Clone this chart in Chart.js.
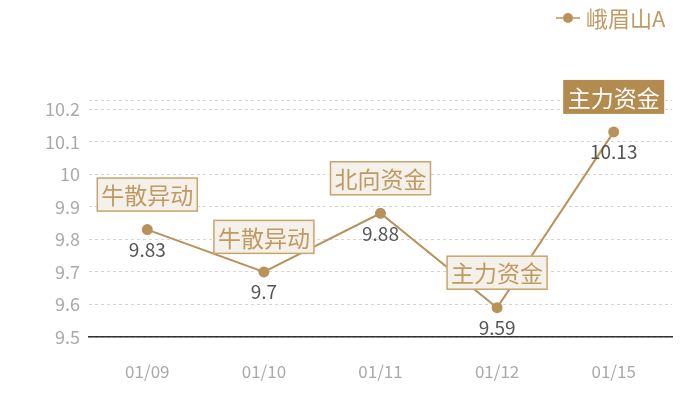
<!DOCTYPE html>
<html>
<head>
<meta charset="utf-8">
<script src="https://cdn.jsdelivr.net/npm/chart.js@4.4.1/dist/chart.umd.min.js"></script>
<style>
  html, body { margin: 0; padding: 0; background: #fff; }
  #wrap { width: 700px; height: 400px; position: relative; }
</style>
</head>
<body>
<div id="wrap"><canvas id="mycanvas"></canvas></div>
<script>
var seriesName = '峨眉山A';
var dates = ['01/09', '01/10', '01/11', '01/12', '01/15'];
var prices = [9.83, 9.7, 9.88, 9.59, 10.13];
var tags = ['牛散异动', '牛散异动', '北向资金', '主力资金', '主力资金'];
var highlight = [false, false, false, false, true];
var yTicks = [9.5, 9.6, 9.7, 9.8, 9.9, 10, 10.1, 10.2];

var gold = '#b8925a';
var font = '"Noto Sans CJK SC", "Noto Sans", sans-serif';

var labelPlugin = {
	id: 'tagLabels',
	afterDatasetsDraw: function(chart) {
		var ctx = chart.ctx;
		var meta = chart.getDatasetMeta(0);
		ctx.save();
		meta.data.forEach(function(pt, i) {
			var x = pt.x, y = pt.y;
			// value below the point
			ctx.font = '19px ' + font;
			ctx.fillStyle = '#555';
			ctx.textAlign = 'center';
			ctx.textBaseline = 'middle';
			ctx.fillText(String(prices[i]), x, y + 20);

			// tag box above the point
			ctx.font = '23px ' + font;
			var w = 101, h = 34;
			var bx = x - w / 2, by = y - 18 - h;
			if (highlight[i]) {
				ctx.fillStyle = '#b38b4f';
				ctx.fillRect(bx, by, w, h);
				ctx.fillStyle = '#fff';
			} else {
				ctx.fillStyle = '#f4f0ea';
				ctx.fillRect(bx, by, w, h);
				ctx.strokeStyle = '#c9a56e';
				ctx.lineWidth = 1.5;
				ctx.strokeRect(bx + 0.5, by + 0.5, w - 1, h - 1);
				ctx.fillStyle = '#bf9a62';
			}
			ctx.fillText(tags[i], x, by + h / 2 + 1);
		});

		// legend, top right
		ctx.strokeStyle = gold;
		ctx.lineWidth = 1.5;
		ctx.beginPath();
		ctx.moveTo(556, 18);
		ctx.lineTo(580, 18);
		ctx.stroke();
		ctx.fillStyle = gold;
		ctx.beginPath();
		ctx.arc(568, 18, 5, 0, Math.PI * 2);
		ctx.fill();
		ctx.font = '22px ' + font;
		ctx.textAlign = 'left';
		ctx.textBaseline = 'middle';
		ctx.fillStyle = '#bf9a62';
		ctx.fillText(seriesName, 586, 19);
		ctx.restore();
	}
};

var chartdata = {
	labels: dates,
	datasets: [{
		label: seriesName,
		data: prices,
		borderColor: gold,
		backgroundColor: gold,
		borderWidth: 2,
		pointRadius: 4.5,
		pointHoverRadius: 4.5,
		tension: 0
	}]
};

var barGraph = new Chart(document.getElementById('mycanvas'), {
	type: 'line',
	data: chartdata,
	plugins: [labelPlugin],
	options: {
		responsive: true,
		maintainAspectRatio: false,
		animation: false,
		layout: { padding: { top: 100, right: 28, left: 0, bottom: 0 } },
		plugins: {
			legend: { display: false },
			tooltip: { enabled: false }
		},
		scales: {
			x: {
				offset: true,
				grid: { display: false, drawTicks: false },
				border: { display: true, color: '#333', width: 1.5 },
				ticks: { color: '#aaa', font: { size: 17, family: font }, padding: 24 },
				afterFit: function(scale) { scale.height = 63; }
			},
			y: {
				min: 9.5,
				max: 10.228,
				afterBuildTicks: function(scale) {
					scale.ticks = yTicks.concat([10.228]).map(function(v) { return { value: v }; });
				},
				grid: { color: '#d6d6d6', drawTicks: false },
				border: { display: false, dash: [3, 3] },
				ticks: {
					color: '#aaa',
					font: { size: 18, family: font },
					padding: 9,
					callback: function(v) { return yTicks.indexOf(v) >= 0 ? String(v) : ''; }
				},
				afterFit: function(scale) { scale.width = 89; }
			}
		}
	}
});
</script>
</body>
</html>
